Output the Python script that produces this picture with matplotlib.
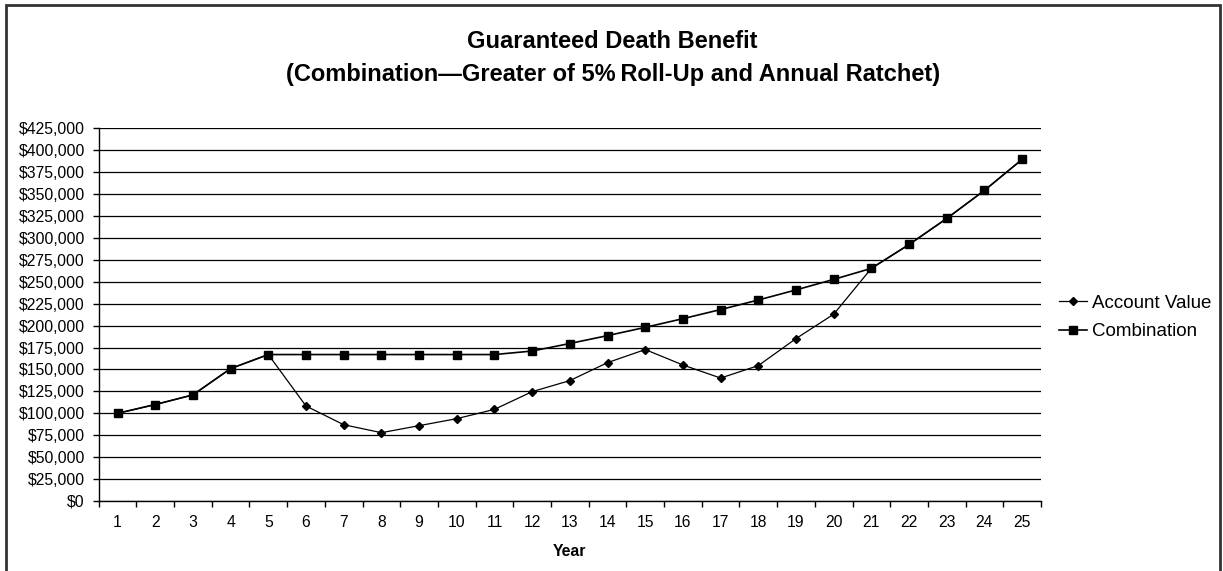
import matplotlib
matplotlib.use("Agg")
import matplotlib.pyplot as plt
from matplotlib.ticker import FuncFormatter, FixedLocator
from matplotlib.patches import Rectangle

# -----------------------------
# DATA
# -----------------------------
years = list(range(1, 26))
account_value = [100000, 110000, 121000, 151000, 167000, 108300, 87000, 77900,
                 85900, 93900, 104500, 124700, 137300, 157800, 172700, 155100,
                 140200, 154400, 185200, 213000, 265300, 292500, 322200, 354200,
                 389600]
combination = [100000, 110000, 121000, 151000, 167000, 167000, 167000, 167000,
               167000, 167000, 167000, 171000, 179600, 188600, 198000, 207900,
               218300, 229200, 240700, 252700, 265300, 292500, 322200, 354200,
               389600]
y_ticks = list(range(0, 425001, 25000))

title_1 = "Guaranteed Death Benefit"
title_2 = "(Combination\u2014Greater of 5%\u2009Roll-Up and Annual Ratchet)"

plt.rcParams["font.family"] = ["Liberation Sans", "DejaVu Sans"]

# -----------------------------
# FIGURE
# -----------------------------
W, H = 1223, 571
fig = plt.figure(figsize=(W / 100, H / 100), dpi=100)
fig.patch.set_facecolor("white")

left, right, top, bottom = 98.7, 1041, 128.3, 501
ax = fig.add_axes([left / W, 1 - bottom / H, (right - left) / W, (bottom - top) / H])

ax.plot(years, account_value, color="black", lw=0.9, marker="D", ms=4.3,
        label="Account Value", zorder=3)
ax.plot(years, combination, color="black", lw=1.2, marker="s", ms=5.8,
        label="Combination", zorder=4)

ax.set_xlim(0.5, 25.5)
ax.set_ylim(0, 425000)

# y axis
ax.set_yticks(y_ticks)
ax.yaxis.set_major_formatter(FuncFormatter(lambda v, p: f"${v:,.0f}"))
ax.tick_params(axis="y", direction="out", length=4, width=1, pad=6, labelsize=11.3)
ax.grid(axis="y", color="black", lw=0.9)
ax.set_axisbelow(True)

# x axis: ticks between categories, labels centred
ax.xaxis.set_major_locator(FixedLocator([y + 0.5 for y in [0] + years]))
ax.xaxis.set_minor_locator(FixedLocator(years))
ax.set_xticklabels([], minor=False)
ax.set_xticklabels([str(y) for y in years], minor=True)
ax.tick_params(axis="x", which="major", direction="out", length=4, width=1)
ax.tick_params(axis="x", which="minor", length=0, pad=10, labelsize=11.3)
ax.set_xlabel("Year", fontsize=11.3, fontweight="bold", labelpad=10)

for side in ["top", "right"]:
    ax.spines[side].set_visible(False)
ax.spines["left"].set_linewidth(1)
ax.spines["bottom"].set_linewidth(1)

# titles
fig.text(0.501, 1 - 41 / H, title_1, ha="center", va="center",
         fontsize=17, fontweight="bold")
fig.text(0.501, 1 - 74 / H, title_2, ha="center", va="center",
         fontsize=17, fontweight="bold")

# legend
fig.legend(loc="center left", bbox_to_anchor=(1059 / W, 1 - 317.5 / H),
           frameon=False, fontsize=13.5, handlelength=1.5, handletextpad=0.25,
           labelspacing=0.62, borderpad=0, borderaxespad=0)

# chart border
fig.patches.append(Rectangle((5.7 / W, -0.05), (1220 - 5.7) / W, 1.05 - 5 / H,
                             transform=fig.transFigure, fill=False,
                             edgecolor="#333333", lw=2))

fig.savefig("out.png", dpi=100)
